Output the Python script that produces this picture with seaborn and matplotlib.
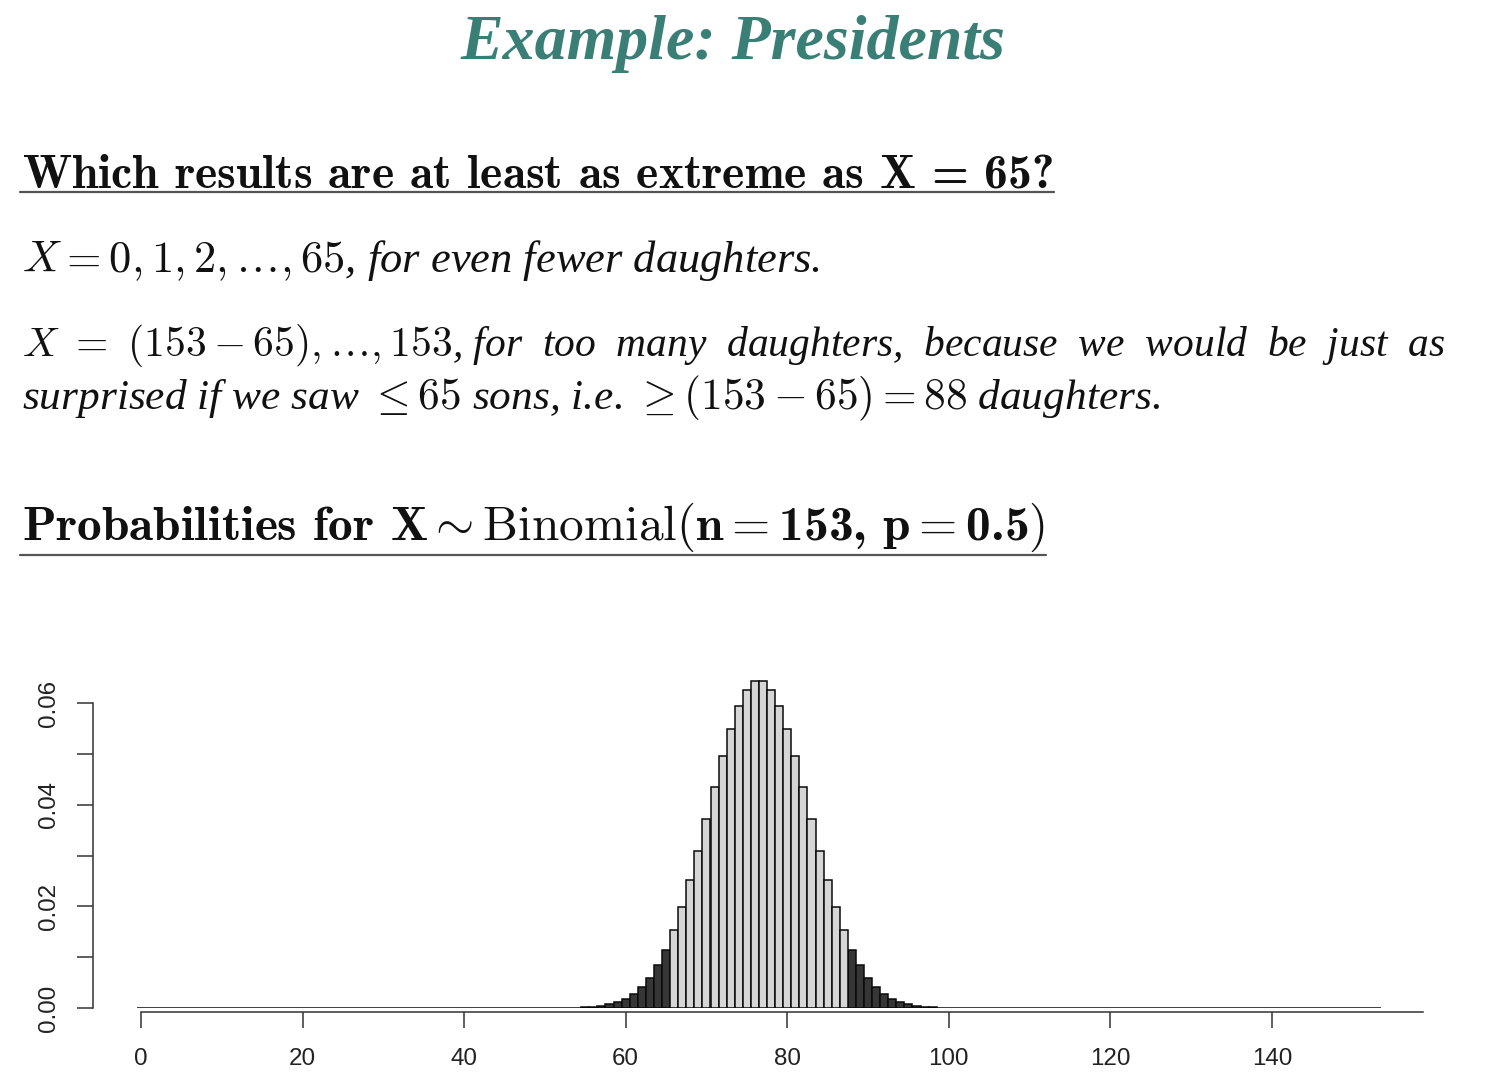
import matplotlib
matplotlib.use("Agg")
import matplotlib.pyplot as plt
import numpy as np
import pandas as pd
import seaborn as sns
from matplotlib.lines import Line2D

# ---------------- data ----------------
successes = list(range(154))
probabilities = [
    0, 0, 0, 0, 0, 0, 0, 0, 0, 0,
    0, 0, 0, 0, 0, 0, 0, 0, 0, 0,
    0, 0, 0, 0, 0, 0, 0, 0, 0, 0,
    0, 0, 0, 0, 0, 0, 0, 0, 0, 0,
    0, 0, 0, 0, 0, 0, 0, 0, 0, 0,
    0.00001, 0.00001, 0.00002, 0.00005, 0.00009, 0.00015, 0.00027, 0.00045, 0.00074, 0.00118,
    0.00184, 0.00279, 0.00413, 0.00596, 0.00837, 0.01145, 0.0153, 0.0198, 0.0251, 0.0309,
    0.0371, 0.0434, 0.0495, 0.0549, 0.0594, 0.0626, 0.0643, 0.0643, 0.0626, 0.0594,
    0.0549, 0.0495, 0.0434, 0.0371, 0.0309, 0.0251, 0.0198, 0.0153, 0.01145, 0.00837,
    0.00596, 0.00413, 0.00279, 0.00184, 0.00118, 0.00074, 0.00045, 0.00027, 0.00015, 0.00009,
    0.00005, 0.00002, 0.00001, 0.00001, 0, 0, 0, 0, 0, 0,
    0, 0, 0, 0, 0, 0, 0, 0, 0, 0,
    0, 0, 0, 0, 0, 0, 0, 0, 0, 0,
    0, 0, 0, 0, 0, 0, 0, 0, 0, 0,
    0, 0, 0, 0, 0, 0, 0, 0, 0, 0,
    0, 0, 0, 0,
]
lower_cutoff = 65
upper_cutoff = 88
x_ticks = [0, 20, 40, 60, 80, 100, 120, 140]
y_ticks = [0.00, 0.01, 0.02, 0.03, 0.04, 0.05, 0.06]
y_ticklabels = ["0.00", "", "0.02", "", "0.04", "", "0.06"]

region = ["tail" if (k <= lower_cutoff or k >= upper_cutoff) else "middle"
          for k in successes]
df = pd.DataFrame({"k": successes, "p": probabilities, "region": region})

# ---------------- figure ----------------
sns.set_style("white")
plt.rcParams["mathtext.fontset"] = "cm"

W, H = 1490, 1092
fig = plt.figure(figsize=(W / 100, H / 100), dpi=100)
fig.patch.set_facecolor("white")


def px(x, y):
    return x / W, 1 - y / H


# axes placement (pixel based)
ax_left, ax_right, ax_bottom, ax_top = 93, 1423, 1008, 672.5
ax = fig.add_axes([ax_left / W, 1 - ax_bottom / H,
                   (ax_right - ax_left) / W, (ax_bottom - ax_top) / H])
ax.set_facecolor("white")

sns.barplot(data=df, x="k", y="p", hue="region",
            palette={"tail": "#363636", "middle": "#d6d6d6"},
            native_scale=True, width=1.0, dodge=False, saturation=1,
            edgecolor="#0a0a0a", linewidth=1.1, legend=False, ax=ax)

ax.set_xlim(-5.94, 158.7)
ax.set_ylim(0, 0.066)
ax.set_xlabel("")
ax.set_ylabel("")

for s in ["top", "right"]:
    ax.spines[s].set_visible(False)
axis_col = "#333333"
ax.spines["left"].set_bounds(0, 0.06)
ax.spines["bottom"].set_bounds(0, 158.7)
ax.spines["bottom"].set_position(("outward", 3))
for s in ["left", "bottom"]:
    ax.spines[s].set_color(axis_col)
    ax.spines[s].set_linewidth(1.1)

ax.set_xticks(x_ticks)
ax.set_xticklabels([str(t) for t in x_ticks])
ax.set_yticks(y_ticks)
ax.set_yticklabels(y_ticklabels, rotation=90, va="center")
for lab in ax.get_xticklabels() + ax.get_yticklabels():
    lab.set_fontfamily("Liberation Sans")
    lab.set_fontsize(17.4)
    lab.set_color("#222222")
ax.tick_params(axis="both", which="both", direction="out", length=11.5,
               width=1.1, color=axis_col, left=True, bottom=True)
ax.tick_params(axis="x", pad=14)
ax.tick_params(axis="y", pad=12)

# ---------------- slide text ----------------
renderer = fig.canvas.get_renderer()


def fit_width(t, target):
    for _ in range(3):
        w = t.get_window_extent(renderer).width
        t.set_fontsize(t.get_fontsize() * target / w)


title = fig.text(*px(733, 59), "Example: Presidents", ha="center", va="baseline",
                 family="Liberation Serif", style="italic", weight="bold",
                 color="#3a7f76", fontsize=40)
fit_width(title, 545)

head1 = fig.text(*px(22, 187), r"Which results are at least as extreme as $\mathbf{X}$ = 65?",
                 ha="left", va="baseline", family="cmb10", color="#111111", fontsize=30)
fit_width(head1, 1031)

line2 = fig.text(*px(22, 272), r"$X = 0, 1, 2, \ldots, 65$, for even fewer daughters.",
                 ha="left", va="baseline", family="Liberation Serif", style="italic",
                 color="#111111", fontsize=28)
fit_width(line2, 798)

line3 = fig.text(*px(22, 356),
                 r"$X\ =\ (153 - 65), \ldots, 153$, for  too  many  daughters,  because  we  would  be  just  as",
                 ha="left", va="baseline", family="Liberation Serif", style="italic",
                 color="#111111", fontsize=28)
fit_width(line3, 1426)

line4 = fig.text(*px(22, 409), r"surprised if we saw $\leq 65$ sons, i.e. $\geq (153 - 65) = 88$ daughters.",
                 ha="left", va="baseline", family="Liberation Serif", style="italic",
                 color="#111111", fontsize=28)
fit_width(line4, 1138)

head2 = fig.text(*px(22, 540),
                 r"Probabilities for $\mathbf{X} \sim \mathrm{Binomial}(\mathbf{n} =$153, $\mathbf{p} =$0.5$)$",
                 ha="left", va="baseline", family="cmb10", color="#111111", fontsize=30)
fit_width(head2, 1023)

# underlines
for x0, x1, y in [(20, 1054, 192), (20, 1046, 555)]:
    fig.add_artist(Line2D([x0 / W, x1 / W], [1 - y / H, 1 - y / H],
                          transform=fig.transFigure, color="#555555", lw=1.6))

fig.savefig("out.png", dpi=100, facecolor="white")
